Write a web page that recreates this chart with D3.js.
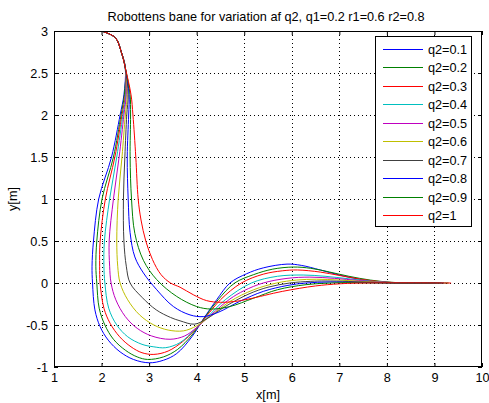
<!DOCTYPE html>
<html>
<head>
<meta charset="utf-8">
<script src="https://cdn.jsdelivr.net/npm/d3@7"></script>
<style>
  body { margin: 0; background: #fff; }
  svg { display: block; font-family: "Liberation Sans", Arial, sans-serif; }
  svg text { font-size: 12.7px; fill: #000; }
</style>
</head>
<body>
<div id="chart"></div>
<script>
// DATA
var titleText = "Robottens bane for variation af q2, q1=0.2 r1=0.6 r2=0.8";
var seriesNames = ["q2=0.1","q2=0.2","q2=0.3","q2=0.4","q2=0.5","q2=0.6","q2=0.7","q2=0.8","q2=0.9","q2=1"];
var xTicks = [1,2,3,4,5,6,7,8,9,10];
var yTicks = [-1,-0.5,0,0.5,1,1.5,2,2.5,3];
var yTickLabels = ["-1","-0.5","0","0.5","1","1.5","2","2.5","3"];

// shared first part of every path
var startPart = [[2.0,3.0],[2.29,2.92],[2.42,2.74],[2.5,2.56]];

var q01 = [[2.47,2.24],[2.39,2.0],[2.21,1.5],[1.94,1.0],[1.83,0.5],[1.80,0.2],[1.81,0],[1.86,-0.32],[1.97,-0.52],[2.14,-0.68],[2.39,-0.82],[2.67,-0.91],[3.0,-0.95],[3.3,-0.92],[3.58,-0.84],[3.9,-0.64],[4.15,-0.42],[4.42,-0.2],[4.7,0.0],[5.05,0.11],[5.4,0.18],[5.9,0.225],[6.2,0.21],[6.6,0.155],[7.0,0.095],[7.43,0.044],[7.85,0.012],[8.3,0],[8.72,0]];
var q02 = [[2.48,2.24],[2.41,2.0],[2.25,1.5],[2.01,1.0],[1.90,0.5],[1.88,0.2],[1.90,0],[1.95,-0.3],[2.07,-0.5],[2.25,-0.67],[2.5,-0.8],[2.75,-0.88],[2.97,-0.91],[3.3,-0.88],[3.6,-0.79],[3.9,-0.62],[4.17,-0.41],[4.45,-0.2],[4.8,0.0],[5.2,0.1],[5.6,0.165],[6.03,0.19],[6.4,0.175],[6.8,0.13],[7.2,0.08],[7.65,0.035],[8.1,0.008],[8.5,0],[8.85,0]];
var q03 = [[2.50,2.24],[2.43,2.0],[2.28,1.5],[2.08,1.0],[1.97,0.5],[1.96,0.2],[1.97,0],[2.05,-0.3],[2.18,-0.48],[2.38,-0.64],[2.62,-0.76],[2.85,-0.83],[3.1,-0.85],[3.4,-0.81],[3.7,-0.7],[3.95,-0.57],[4.2,-0.4],[4.5,-0.2],[4.94,0.0],[5.4,0.105],[5.8,0.145],[6.12,0.155],[6.6,0.13],[7.0,0.09],[7.5,0.04],[8.0,0.01],[8.5,0],[8.95,0]];
var q04 = [[2.51,2.24],[2.45,2.0],[2.32,1.5],[2.17,1.0],[2.06,0.5],[2.05,0.2],[2.07,0],[2.15,-0.3],[2.32,-0.5],[2.55,-0.64],[2.85,-0.73],[3.1,-0.76],[3.35,-0.77],[3.65,-0.71],[3.95,-0.56],[4.2,-0.42],[4.6,-0.2],[5.15,0.0],[5.7,0.08],[6.24,0.095],[6.7,0.08],[7.2,0.05],[7.7,0.02],[8.2,0.003],[8.6,0],[9.0,0]];
var q05 = [[2.52,2.24],[2.47,2.0],[2.37,1.5],[2.25,1.0],[2.16,0.5],[2.17,0.2],[2.2,0],[2.3,-0.2],[2.5,-0.4],[2.75,-0.54],[3.05,-0.63],[3.44,-0.67],[3.75,-0.63],[4.0,-0.53],[4.3,-0.38],[4.7,-0.19],[5.0,-0.09],[5.4,0.0],[5.9,0.055],[6.38,0.07],[6.9,0.055],[7.4,0.03],[7.9,0.01],[8.4,0],[9.05,0]];
var q06 = [[2.54,2.24],[2.50,2.0],[2.43,1.5],[2.35,1.0],[2.32,0.5],[2.34,0.2],[2.39,0],[2.55,-0.2],[2.8,-0.38],[3.1,-0.5],[3.4,-0.56],[3.72,-0.57],[4.0,-0.51],[4.3,-0.39],[4.7,-0.22],[5.2,-0.08],[5.68,0.0],[6.1,0.035],[6.52,0.045],[7.0,0.035],[7.5,0.018],[8.0,0.005],[8.5,0],[9.1,0]];
var q07 = [[2.56,2.24],[2.53,2.0],[2.49,1.5],[2.46,1.0],[2.47,0.5],[2.52,0.2],[2.6,0],[2.85,-0.17],[3.15,-0.32],[3.45,-0.41],[3.65,-0.45],[3.95,-0.49],[4.2,-0.43],[4.6,-0.28],[5.1,-0.13],[5.5,-0.05],[5.96,0.0],[6.4,0.02],[6.7,0.024],[7.2,0.018],[7.7,0.008],[8.2,0],[9.15,0]];
var q08 = [[2.58,2.24],[2.57,2.0],[2.54,1.5],[2.56,1.0],[2.6,0.6],[2.7,0.31],[2.88,0.12],[3.16,-0.08],[3.51,-0.28],[3.86,-0.38],[4.14,-0.4],[4.45,-0.35],[4.9,-0.22],[5.4,-0.1],[5.9,-0.03],[6.3,0.0],[6.8,0.012],[7.3,0.008],[7.8,0.002],[8.3,0],[9.2,0]];
var q09 = [[2.60,2.24],[2.61,2.0],[2.60,1.5],[2.63,1.0],[2.70,0.59],[2.88,0.27],[3.16,0.04],[3.58,-0.16],[4.0,-0.28],[4.3,-0.31],[4.7,-0.28],[5.2,-0.18],[5.7,-0.08],[6.3,-0.02],[7.0,0.003],[7.5,0.002],[8.0,0],[9.3,0]];
var q10 = [[2.62,2.24],[2.66,2.0],[2.72,1.5],[2.77,1.0],[2.83,0.75],[2.93,0.5],[3.07,0.28],[3.25,0.1],[3.45,0.0],[3.65,-0.05],[3.93,-0.14],[4.21,-0.21],[4.5,-0.23],[4.8,-0.22],[5.1,-0.19],[5.8,-0.1],[6.5,-0.035],[7.0,-0.01],[7.5,0],[9.35,0]];

var seriesData = [q01,q02,q03,q04,q05,q06,q07,q08,q09,q10];
var colors = ["#0000ff","#008000","#ff0000","#00bfbf","#bf00bf","#bfbf00","#404040","#0000ff","#008000","#ff0000"];

// LAYOUT
var W = 489, H = 403;
var mLeft = 54, mRight = 482, mTop = 31, mBottom = 367;

var svg = d3.select("#chart").append("svg")
  .attr("width", W).attr("height", H);

var x = d3.scaleLinear().domain([1,10]).range([mLeft,mRight]);
var y = d3.scaleLinear().domain([-1,3]).range([mBottom,mTop]);

svg.append("rect").attr("x",0).attr("y",0).attr("width",W).attr("height",H).attr("fill","#fff");

// grid (dotted)
var grid = svg.append("g").attr("stroke","#000").attr("stroke-width",1).attr("stroke-dasharray","1,3");
grid.selectAll(".gx").data(xTicks.slice(1,-1)).enter().append("line")
  .attr("x1", function(d){ return Math.round(x(d))+0.5; })
  .attr("x2", function(d){ return Math.round(x(d))+0.5; })
  .attr("y1", mTop).attr("y2", mBottom);
grid.selectAll(".gy").data(yTicks.slice(1,-1)).enter().append("line")
  .attr("y1", function(d){ return Math.round(y(d))+0.5; })
  .attr("y2", function(d){ return Math.round(y(d))+0.5; })
  .attr("x1", mLeft).attr("x2", mRight);

// curves
svg.append("clipPath").attr("id","clip").append("rect")
  .attr("x",mLeft).attr("y",mTop).attr("width",mRight-mLeft).attr("height",mBottom-mTop);

var line = d3.line()
  .x(function(d){ return x(d[0]); })
  .y(function(d){ return y(d[1]); })
  .curve(d3.curveCatmullRom.alpha(0.5));

var plot = svg.append("g").attr("clip-path","url(#clip)");
seriesData.forEach(function(s,i){
  plot.append("path")
    .datum(startPart.concat(s))
    .attr("fill","none")
    .style("stroke",colors[i])
    .attr("stroke-width",1)
    .attr("d",line);
});

// axes, ticks pointing inward
function styleAxis(g){
  g.select(".domain").remove();
  g.attr("font-size",null).attr("font-family",null);
  g.selectAll("line").attr("stroke","#000");
}
svg.append("g").attr("transform","translate(0,"+mBottom+")")
  .call(d3.axisBottom(x).tickValues(xTicks).tickFormat(d3.format("d")).tickSizeInner(-4).tickSizeOuter(0).tickPadding(6))
  .call(styleAxis);
svg.append("g").attr("transform","translate(0,"+mTop+")")
  .call(d3.axisTop(x).tickValues(xTicks).tickFormat("").tickSizeInner(-4).tickSizeOuter(0))
  .call(styleAxis);
svg.append("g").attr("transform","translate("+mLeft+",0)")
  .call(d3.axisLeft(y).tickValues(yTicks).tickFormat(function(d,i){ return yTickLabels[i]; }).tickSizeInner(-4).tickSizeOuter(0).tickPadding(6))
  .call(styleAxis);
svg.append("g").attr("transform","translate("+mRight+",0)")
  .call(d3.axisRight(y).tickValues(yTicks).tickFormat("").tickSizeInner(-4).tickSizeOuter(0))
  .call(styleAxis);

// frame
svg.append("rect").attr("x",mLeft+0.5).attr("y",mTop+0.5)
  .attr("width",mRight-mLeft-1).attr("height",mBottom-mTop-1)
  .attr("fill","none").attr("stroke","#000").attr("stroke-width",1);

// title & labels
svg.append("text").attr("x",(mLeft+mRight)/2 - 2).attr("y",21)
  .attr("text-anchor","middle").text(titleText);
svg.append("text").attr("x",(mLeft+mRight)/2).attr("y",399)
  .attr("text-anchor","middle").text("x[m]");
svg.append("text").attr("transform","translate(17,"+((mTop+mBottom)/2)+") rotate(-90)")
  .attr("text-anchor","middle").text("y[m]");

// legend
var lg = svg.append("g");
lg.append("rect").attr("x",375.5).attr("y",36.5).attr("width",96).attr("height",190)
  .attr("fill","#fff").attr("stroke","#000");
seriesNames.forEach(function(n,i){
  var ly = Math.round(49 + i*18.45) + 0.5;
  lg.append("line").attr("x1",383).attr("x2",423).attr("y1",ly).attr("y2",ly)
    .style("stroke",colors[i]).attr("stroke-width",1);
  lg.append("text").attr("x",428).attr("y",ly+4.5).text(n);
});
</script>
</body>
</html>
